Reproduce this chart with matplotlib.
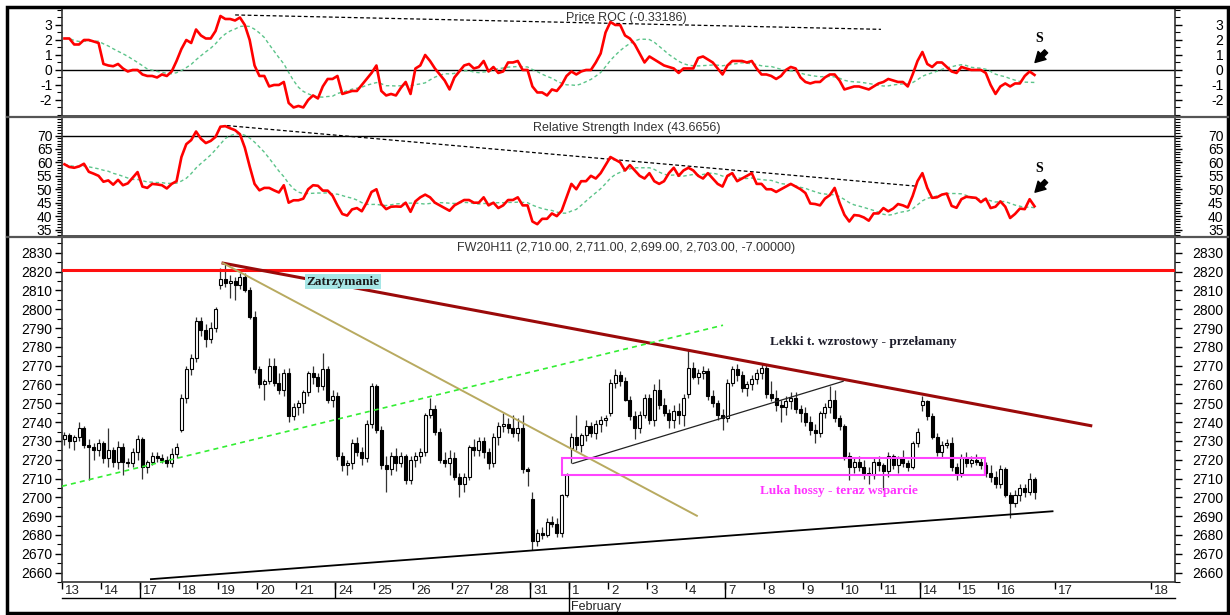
import numpy as np
import pandas as pd
import matplotlib
matplotlib.use("Agg")
import matplotlib.pyplot as plt
from matplotlib.patches import Rectangle
from matplotlib.lines import Line2D

plt.rcParams["font.family"] = ["Liberation Sans", "DejaVu Sans"]
plt.rcParams["axes.unicode_minus"] = False

# --- data -------------------------------------------------------------
day_labels = ["13", "14", "17", "18", "19", "20", "21", "24", "25", "26", "27", "28", "31",
              "1", "2", "3", "4", "7", "8", "9", "10", "11", "14", "15", "16", "17", "18"]
day_ticks = list(range(25)) + [25.46, 27.92]
week_start_ticks = [2, 7, 12, 17, 22]
bars_per_day = 8

opens = [
    2731, 2733, 2730, 2732, 2737, 2728, 2727, 2725,  # 13
    2729, 2721, 2725, 2719, 2727, 2719, 2718, 2724,  # 14
    2731, 2716, 2719, 2722, 2721, 2720, 2718, 2723,  # 17
    2736, 2753, 2768, 2774, 2794, 2789, 2784, 2790,  # 18
    2813, 2816, 2814, 2815, 2813, 2817, 2810, 2796,  # 19
    2768, 2760, 2762, 2770, 2761, 2757, 2766, 2743,  # 20
    2748, 2750, 2756, 2766, 2764, 2759, 2768, 2752,  # 21
    2754, 2722, 2717, 2718, 2729, 2724, 2721, 2739,  # 24
    2759, 2736, 2717, 2715, 2722, 2718, 2722, 2709,  # 25
    2720, 2722, 2724, 2744, 2747, 2735, 2720, 2718,  # 26
    2721, 2711, 2707, 2711, 2727, 2725, 2730, 2724,  # 27
    2718, 2732, 2738, 2739, 2737, 2734, 2737, 2715,  # 28
    2699, 2677, 2681, 2680, 2687, 2686, 2681, 2701,  # 31
    2726, 2732, 2728, 2733, 2738, 2734, 2739, 2741,  # 1
    2745, 2761, 2765, 2762, 2752, 2743, 2737, 2744,  # 2
    2753, 2741, 2757, 2749, 2745, 2741, 2746, 2744,  # 3
    2755, 2769, 2764, 2766, 2767, 2754, 2750, 2744,  # 4
    2742, 2761, 2768, 2765, 2758, 2760, 2763, 2766,  # 7
    2769, 2755, 2753, 2749, 2748, 2751, 2753, 2747,  # 8
    2745, 2740, 2736, 2734, 2745, 2748, 2752, 2742,  # 9
    2738, 2722, 2716, 2719, 2716, 2713, 2712, 2719,  # 10
    2717, 2714, 2722, 2717, 2721, 2718, 2716, 2729,  # 11
    2749, 2751, 2743, 2732, 2724, 2728, 2729, 2716,  # 14
    2713, 2721, 2718, 2720, 2719, 2717, 2713, 2711,  # 15
    2707, 2715, 2701, 2697, 2701, 2705, 2703, 2710,  # 16
]
highs = [
    2735, 2734, 2733, 2740, 2738, 2731, 2729, 2731,
    2730, 2737, 2727, 2730, 2729, 2721, 2726, 2733,
    2732, 2720, 2724, 2724, 2723, 2722, 2726, 2729,
    2755, 2770, 2776, 2796, 2796, 2792, 2793, 2801,
    2822, 2825, 2818, 2817, 2819, 2819, 2812, 2799,
    2770, 2763, 2774, 2774, 2766, 2768, 2769, 2750,
    2752, 2757, 2767, 2770, 2766, 2777, 2770, 2757,
    2756, 2724, 2720, 2731, 2732, 2727, 2741, 2761,
    2760, 2738, 2722, 2724, 2726, 2724, 2723, 2722,
    2724, 2726, 2745, 2753, 2749, 2737, 2724, 2725,
    2724, 2713, 2713, 2728, 2731, 2732, 2732, 2726,
    2734, 2740, 2745, 2742, 2744, 2742, 2744, 2716,
    2703, 2683, 2684, 2689, 2690, 2689, 2702, 2713,
    2734, 2744, 2734, 2741, 2740, 2741, 2743, 2744,
    2763, 2768, 2767, 2764, 2754, 2746, 2746, 2755,
    2755, 2760, 2763, 2753, 2747, 2749, 2750, 2755,
    2779, 2772, 2768, 2770, 2769, 2757, 2752, 2747,
    2763, 2770, 2771, 2767, 2762, 2765, 2768, 2771,
    2771, 2762, 2757, 2752, 2754, 2756, 2756, 2749,
    2748, 2743, 2739, 2746, 2750, 2759, 2757, 2744,
    2739, 2724, 2721, 2722, 2720, 2716, 2721, 2722,
    2718, 2724, 2723, 2722, 2725, 2720, 2730, 2737,
    2754, 2752, 2745, 2734, 2730, 2731, 2732, 2718,
    2723, 2724, 2722, 2723, 2721, 2719, 2717, 2714,
    2717, 2716, 2703, 2704, 2707, 2707, 2713, 2711,
]
lows = [
    2728, 2726, 2725, 2730, 2726, 2709, 2720, 2722,
    2718, 2716, 2716, 2715, 2712, 2716, 2716, 2720,
    2710, 2713, 2717, 2719, 2718, 2716, 2716, 2721,
    2735, 2750, 2765, 2772, 2786, 2780, 2782, 2788,
    2811, 2812, 2806, 2805, 2811, 2809, 2795, 2766,
    2758, 2752, 2760, 2759, 2755, 2754, 2740, 2741,
    2744, 2745, 2754, 2760, 2756, 2757, 2750, 2748,
    2720, 2714, 2712, 2715, 2722, 2717, 2719, 2737,
    2734, 2715, 2703, 2712, 2714, 2716, 2707, 2707,
    2716, 2718, 2722, 2742, 2733, 2718, 2716, 2712,
    2709, 2700, 2703, 2709, 2722, 2722, 2721, 2715,
    2716, 2728, 2735, 2734, 2732, 2730, 2713, 2706,
    2672, 2674, 2678, 2679, 2684, 2679, 2679, 2700,
    2718, 2725, 2724, 2730, 2732, 2731, 2735, 2738,
    2743, 2758, 2759, 2751, 2741, 2731, 2734, 2742,
    2739, 2738, 2747, 2743, 2737, 2737, 2739, 2738,
    2753, 2763, 2760, 2763, 2752, 2748, 2741, 2736,
    2740, 2759, 2762, 2756, 2754, 2757, 2760, 2763,
    2753, 2751, 2746, 2740, 2744, 2747, 2745, 2740,
    2738, 2733, 2729, 2732, 2742, 2745, 2740, 2736,
    2720, 2709, 2713, 2714, 2710, 2707, 2710, 2714,
    2704, 2711, 2715, 2713, 2716, 2714, 2715, 2727,
    2746, 2741, 2731, 2722, 2721, 2726, 2714, 2709,
    2711, 2716, 2716, 2717, 2715, 2711, 2708, 2705,
    2705, 2700, 2689, 2695, 2698, 2700, 2701, 2699,
]
closes = [
    2733, 2730, 2732, 2737, 2728, 2727, 2725, 2729,
    2721, 2725, 2719, 2727, 2719, 2718, 2724, 2731,
    2716, 2719, 2722, 2721, 2720, 2718, 2723, 2727,
    2753, 2768, 2774, 2794, 2789, 2784, 2790, 2800,
    2816, 2814, 2815, 2813, 2817, 2810, 2796, 2768,
    2760, 2762, 2770, 2761, 2757, 2766, 2743, 2748,
    2750, 2756, 2766, 2764, 2759, 2768, 2752, 2754,
    2722, 2717, 2718, 2729, 2724, 2721, 2739, 2759,
    2736, 2717, 2715, 2722, 2718, 2722, 2709, 2720,
    2722, 2724, 2744, 2747, 2735, 2720, 2718, 2721,
    2711, 2707, 2711, 2727, 2725, 2730, 2724, 2718,
    2732, 2738, 2739, 2737, 2734, 2737, 2715, 2714,
    2677, 2681, 2680, 2687, 2686, 2681, 2701, 2712,
    2732, 2728, 2733, 2738, 2734, 2739, 2741, 2742,
    2761, 2765, 2762, 2752, 2743, 2737, 2744, 2753,
    2741, 2757, 2749, 2745, 2741, 2746, 2744, 2753,
    2769, 2764, 2766, 2767, 2754, 2750, 2744, 2742,
    2761, 2768, 2765, 2758, 2760, 2763, 2766, 2769,
    2755, 2753, 2749, 2748, 2751, 2753, 2747, 2745,
    2740, 2736, 2734, 2745, 2748, 2752, 2742, 2738,
    2722, 2716, 2719, 2716, 2713, 2712, 2719, 2717,
    2714, 2722, 2717, 2721, 2718, 2716, 2729, 2735,
    2751, 2743, 2732, 2724, 2728, 2729, 2716, 2713,
    2721, 2718, 2720, 2719, 2717, 2713, 2711, 2707,
    2715, 2701, 2697, 2701, 2705, 2703, 2710, 2703,
]

roc = [
    2.1, 2.1, 1.7, 1.7, 2.0, 2.0, 1.9, 1.8,
    0.4, 0.3, 0.25, 0.4, 0.1, -0.1, 0.0, 0.0,
    -0.3, -0.4, -0.4, -0.5, -0.3, -0.4, -0.1, 0.6,
    1.4, 2.0, 1.8, 2.7, 2.3, 2.1, 2.1, 2.6,
    3.6, 3.4, 3.4, 3.3, 3.5, 3.0, 2.0, 0.3,
    -0.4, -0.4, -1.1, -1.0, -1.0, -0.8, -2.2, -2.5,
    -2.4, -2.5, -2.0, -1.7, -1.9, -1.1, -0.6, -0.6,
    -0.4, -1.6, -1.5, -1.4, -1.4, -1.0, -0.6, -0.2,
    0.3, -1.4, -1.7, -1.6, -1.7, -1.2, -0.8, -1.6,
    0.1, 0.3, 1.0, 0.6, 0.1, -0.3, -0.7, -1.3,
    -0.5, -0.1, 0.3, 0.4, 0.1, 0.2, 0.6, -0.1,
    0.2, -0.2, -0.1, 0.5, 0.5, 0.6, 0.0, 0.0,
    -1.1, -1.5, -1.5, -1.7, -1.3, -1.4, -1.0, -0.4,
    -0.1, -0.3, -0.1, 0.0, 0.0, 0.5, 1.1, 2.5,
    3.2, 3.0, 3.0, 2.3, 2.1, 1.7, 1.1, 0.5,
    0.9, 0.7, 0.5, 0.3, 0.2, 0.1, -0.2, 0.1,
    0.1, 0.1, 0.8, 0.9, 0.7, 0.5, 0.1, -0.3,
    0.3, 0.6, 0.6, 0.6, 0.5, 0.6, 0.1, -0.3,
    -0.3, -0.4, -0.6, -0.4, 0.0, 0.2, 0.1, -0.5,
    -0.8, -0.9, -0.8, -0.8, -0.5, -0.3, -0.3, -0.7,
    -1.3, -1.2, -1.1, -1.1, -1.2, -1.3, -1.1, -0.9,
    -0.8, -0.6, -0.7, -0.8, -0.8, -1.1, -0.3, 0.6,
    1.2, 0.4, 0.2, 0.5, 0.5, 0.2, -0.1, -0.2,
    0.2, 0.1, 0.0, 0.0, 0.0, -0.2, -1.0, -1.6,
    -1.1, -0.9, -1.1, -0.9, -0.9, -0.4, -0.1, -0.33186,
]
rsi = [
    59.3, 58.3, 58.0, 58.5, 59.5, 56.5, 55.8, 55.0,
    52.8, 53.3, 51.7, 53.5, 51.5, 52.2, 54.3, 56.4,
    51.0, 50.5, 52.0, 51.8, 51.5, 50.3, 52.0, 53.0,
    62.0, 66.8, 68.3, 71.5, 68.8, 67.2, 68.0, 69.5,
    73.3, 73.5, 72.7, 72.0, 70.5, 65.5, 58.5, 52.0,
    49.6, 50.5, 50.5, 49.6, 48.8, 51.5, 45.0, 45.9,
    45.9, 46.5, 50.0, 51.5, 51.3, 49.5, 49.5, 47.6,
    44.0, 40.8, 40.2, 42.5, 43.0, 41.8, 45.0, 49.0,
    50.0, 44.5, 42.6, 43.5, 43.6, 43.5, 45.0, 41.6,
    45.5, 47.0, 48.0, 47.0, 45.0, 44.0, 43.0, 42.0,
    44.0, 45.0, 46.0, 46.0, 45.0, 45.0, 47.0, 44.0,
    45.0, 43.0, 44.0, 46.0, 46.0, 47.0, 44.0, 44.0,
    38.0, 37.0, 39.0, 39.0, 41.0, 40.0, 42.0, 47.0,
    52.0, 50.0, 53.0, 53.0, 55.0, 54.0, 56.0, 59.0,
    62.0, 61.0, 60.0, 57.0, 59.0, 57.0, 55.0, 54.0,
    56.0, 53.0, 52.0, 53.0, 56.0, 58.0, 55.0, 57.0,
    58.0, 57.0, 55.0, 54.0, 56.0, 54.0, 52.0, 51.0,
    55.0, 56.0, 53.0, 54.0, 55.0, 56.0, 52.0, 52.0,
    50.0, 50.0, 49.0, 50.0, 51.0, 52.0, 51.0, 50.0,
    48.6, 44.7, 44.5, 44.0, 46.5, 47.8, 50.5, 45.0,
    40.5, 38.0, 40.4, 40.2, 39.5, 38.3, 41.0, 41.0,
    43.0, 41.8, 42.8, 44.5, 44.0, 43.2, 47.5, 53.0,
    56.0, 50.5, 46.8, 47.0, 48.0, 48.4, 43.8, 43.1,
    46.3, 47.2, 47.0, 46.8, 45.2, 46.5, 43.0, 43.5,
    45.5, 43.5, 39.3, 40.8, 42.8, 42.6, 46.3, 43.6656,
]

ma_window = 10
resistance_level = 2821

# --- layout helpers ---------------------------------------------------
W, H = 1230, 615
X_LEFT, X_RIGHT = 0, 28.54
PLOT_L, PLOT_R = 62, 1175

fig = plt.figure(figsize=(W / 100, H / 100), dpi=100)


def panel(top, bottom):
    return fig.add_axes([PLOT_L / W, 1 - bottom / H, (PLOT_R - PLOT_L) / W, (bottom - top) / H])


def style_panel(ax, ylim, major, labels, minor):
    ax.set_xlim(X_LEFT, X_RIGHT)
    ax.set_ylim(*ylim)
    ax.set_yticks(major)
    ax.set_yticklabels(labels)
    ax.set_yticks(minor, minor=True)
    ax.tick_params(axis="y", which="major", length=5, width=1, direction="out",
                   labelsize=10, pad=2, colors="black")
    ax.tick_params(axis="y", which="minor", length=3.5, width=0.8, direction="out")
    ax.set_xticks([])
    for s in ax.spines.values():
        s.set_linewidth(1.2)
        s.set_color("#333333")
    ax2 = ax.twinx()
    ax2.set_ylim(*ylim)
    ax2.set_yticks(major)
    ax2.set_yticklabels(labels)
    ax2.set_yticks(minor, minor=True)
    ax2.tick_params(axis="y", which="major", length=5, width=1, direction="out",
                    labelsize=10, pad=30)
    ax2.tick_params(axis="y", which="minor", length=3.5, width=0.8, direction="out")
    for t in ax2.get_yticklabels():
        t.set_horizontalalignment("right")
    for s in ax2.spines.values():
        s.set_visible(False)
    return ax2


def panel_title(ax, text, height_px):
    ax.text(0.507, 1 - 11 / height_px, text, transform=ax.transAxes, ha="center",
            va="center", fontsize=9, color="#333333", zorder=6)


def signal_mark(ax, text_xy, tip_xy):
    ax.text(*text_xy, "S", ha="center", va="center", fontsize=10, fontweight="bold",
            family="Liberation Serif")
    ax.annotate("", xy=tip_xy, xytext=(8, 8), textcoords="offset points",
                arrowprops=dict(arrowstyle="simple,head_length=0.8,head_width=0.9,tail_width=0.35",
                                color="black", shrinkA=0, shrinkB=0, mutation_scale=9))


x = np.arange(len(closes)) / bars_per_day + 0.5 / bars_per_day

# --- ROC panel --------------------------------------------------------
ax_roc = panel(7, 116)
roc_ticks = [-2, -1, 0, 1, 2, 3]
style_panel(ax_roc, (-3.07, 4.2), roc_ticks, [str(v) for v in roc_ticks],
            np.arange(-3, 4.01, 0.5))
ax_roc.axhline(0, color="black", lw=1, zorder=1)
ax_roc.plot(x, pd.Series(roc).rolling(ma_window, min_periods=1).mean(),
            color="#5cc48a", lw=1, ls=(0, (2.5, 2)), zorder=2)
ax_roc.plot(x, roc, color="#ff0000", lw=1.9, zorder=3)
ax_roc.plot([4.44, 21.0], [3.67, 2.71], color="black", lw=0.9, ls=(0, (3, 2)), zorder=2)
panel_title(ax_roc, "Price ROC (-0.33186)", 109)
signal_mark(ax_roc, (25.05, 2.07), (24.95, 0.5))

# --- RSI panel --------------------------------------------------------
ax_rsi = panel(117, 236)
rsi_ticks = list(range(35, 71, 5))
style_panel(ax_rsi, (32.6, 76.9), rsi_ticks, [str(v) for v in rsi_ticks],
            np.arange(33, 77, 1))
ax_rsi.axhline(70, color="black", lw=1, zorder=1)
ax_rsi.plot(x, pd.Series(rsi).rolling(ma_window, min_periods=1).mean(),
            color="#5cc48a", lw=1, ls=(0, (2.5, 2)), zorder=2)
ax_rsi.plot(x, rsi, color="#ff0000", lw=1.9, zorder=3)
ax_rsi.plot([4.23, 21.87], [73.7, 51.2], color="black", lw=0.9, ls=(0, (3, 2)), zorder=2)
panel_title(ax_rsi, "Relative Strength Index (43.6656)", 119)
signal_mark(ax_rsi, (25.05, 57.8), (24.95, 48.9))

# --- price panel ------------------------------------------------------
ax_px = panel(237, 582)
px_ticks = list(range(2660, 2831, 10))
style_panel(ax_px, (2656.3, 2838.4), px_ticks, [str(v) for v in px_ticks],
            np.arange(2655, 2840, 5))

o, h, l, c = map(np.array, (opens, highs, lows, closes))
body_w = 0.62 / bars_per_day
ax_px.vlines(x, l, h, color="#333333", lw=0.9, zorder=2)
ax_px.bar(x, np.maximum(np.abs(c - o), 0.4), width=body_w, bottom=np.minimum(o, c),
          color=np.where(c >= o, "white", "black"), edgecolor="black", linewidth=0.8,
          zorder=3)

ax_px.axhline(resistance_level, color="#ff1010", lw=2.2, zorder=4)
ax_px.plot([4.13, 26.38], [2824.5, 2738.1], color="#9b0a0a", lw=2.2, zorder=4)
ax_px.plot([4.13, 16.28], [2824.5, 2690.2], color="#b8aa60", lw=1.4, zorder=4)
ax_px.plot([0.0, 16.95], [2705.9, 2791.5], color="#33ee33", lw=1.2, ls=(0, (3, 2.5)), zorder=4)
ax_px.plot([2.28, 25.40], [2656.5, 2692.6], color="black", lw=1.3, zorder=4)
ax_px.plot([13.10, 20.03], [2718, 2761.7], color="#222222", lw=0.9, zorder=4)
ax_px.add_patch(Rectangle((12.82, 2712), 23.67 - 12.82, 2721 - 2712, fill=False,
                          edgecolor="#ff44ff", lw=1.5, zorder=4))

ax_px.text(7.2, 2814.7, "Zatrzymanie", ha="center", va="center", fontsize=9.5,
           fontweight="bold", family="Liberation Serif", color="#1a1a1a", zorder=6,
           bbox=dict(boxstyle="square,pad=0.12", facecolor="#a6e6e6", edgecolor="none"))
ax_px.text(18.15, 2782.5, "Lekki t. wzrostowy - przełamany", ha="left", va="center",
           fontsize=9.5, fontweight="bold", family="Liberation Serif", color="#1c1c2a",
           zorder=6)
ax_px.text(17.9, 2703.3, "Luka hossy - teraz wsparcie", ha="left", va="center",
           fontsize=9.5, fontweight="bold", family="Liberation Serif", color="#ff33ff",
           zorder=6)
panel_title(ax_px, "FW20H11 (2,710.00, 2,711.00, 2,699.00, 2,703.00, -7.00000)", 345)

# date axis
ax_px.set_xticks(day_ticks)
ax_px.set_xticklabels([])
ax_px.tick_params(axis="x", which="major", length=5, width=1, direction="out", bottom=True)
xt = ax_px.get_xaxis_transform()
for pos, lab in zip(day_ticks, day_labels):
    ax_px.text(pos + 3 / 39, -8.5 / 345, lab, transform=xt, ha="left", va="center",
               fontsize=9.5, color="#222222", clip_on=False)
ax_px.vlines(week_start_ticks, -16 / 345, 0, transform=xt, color="black", lw=1,
             clip_on=False)
ax_px.vlines([13], -31 / 345, 0, transform=xt, color="black", lw=1, clip_on=False)
ax_px.plot([0, 1], [-16 / 345, -16 / 345], transform=ax_px.transAxes, color="black",
           lw=1, clip_on=False)
ax_px.text(13 + 2 / 39, -25 / 345, "February", transform=xt, ha="left", va="center",
           fontsize=9, color="#222222", clip_on=False)

# --- frame and panel separators --------------------------------------
for yy in (116.5, 236.5):
    fig.add_artist(Line2D([6.5 / W, 1227.5 / W], [1 - yy / H, 1 - yy / H],
                          color="#555555", lw=1.6))
fig.add_artist(Rectangle((6.5 / W, 1 - 612.5 / H), 1221 / W, 606 / H, fill=False,
                         edgecolor="black", lw=2.5))

fig.savefig("out.png", dpi=100)
